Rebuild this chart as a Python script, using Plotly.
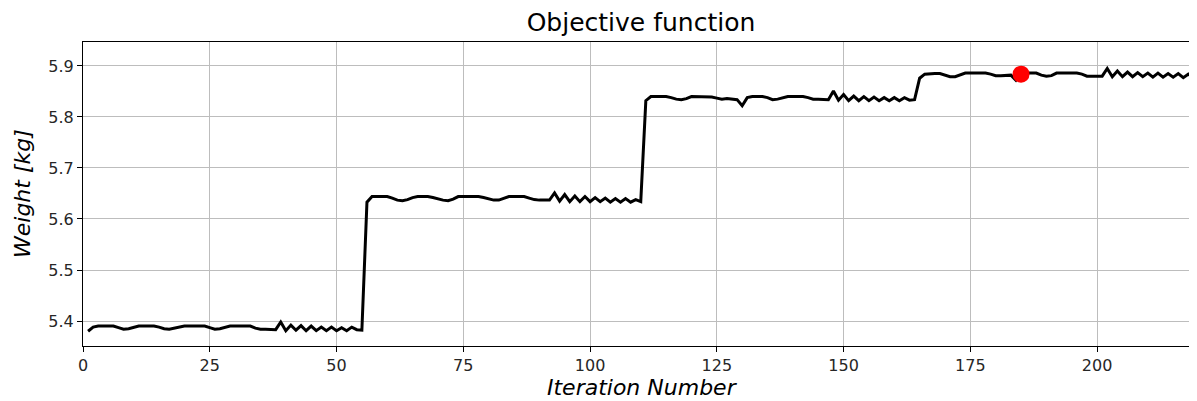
import plotly.graph_objects as go

iterations = list(range(1, 221))

seg1 = [5.380, 5.388, 5.390, 5.390, 5.390, 5.390, 5.387, 5.384, 5.385, 5.387,
        5.390, 5.390, 5.390, 5.390, 5.388, 5.385, 5.384, 5.386, 5.388, 5.390,
        5.390, 5.390, 5.390, 5.390, 5.387, 5.384, 5.385, 5.388, 5.390, 5.390,
        5.390, 5.390, 5.390, 5.386, 5.384, 5.384, 5.384, 5.383,
        5.398, 5.381, 5.392, 5.382, 5.391, 5.381, 5.390, 5.381, 5.388, 5.381,
        5.388, 5.381, 5.387, 5.381, 5.388, 5.383, 5.382]
seg2 = [5.633, 5.644, 5.644, 5.644, 5.644, 5.641, 5.637, 5.636, 5.638, 5.642,
        5.644, 5.644, 5.644, 5.642, 5.639, 5.637, 5.636, 5.639, 5.644, 5.644,
        5.644, 5.644, 5.644, 5.642, 5.639, 5.637, 5.637, 5.641, 5.644, 5.644,
        5.644, 5.644, 5.641, 5.638, 5.637, 5.637, 5.637,
        5.651, 5.635, 5.648, 5.634, 5.645, 5.634, 5.644, 5.634, 5.642, 5.634,
        5.641, 5.633, 5.640, 5.633, 5.640, 5.633, 5.638, 5.634]
seg3 = [5.832, 5.840, 5.840, 5.840, 5.840, 5.838, 5.835, 5.834, 5.836, 5.840,
        5.840, 5.840, 5.840, 5.839, 5.837, 5.835, 5.836, 5.835, 5.834, 5.822,
        5.838, 5.840, 5.840, 5.840, 5.838, 5.834, 5.835, 5.838, 5.840, 5.840,
        5.840, 5.840, 5.838, 5.835, 5.835, 5.835, 5.834,
        5.851, 5.833, 5.844, 5.832, 5.841, 5.832, 5.840, 5.832, 5.839, 5.832,
        5.838, 5.832, 5.838, 5.832, 5.838, 5.833, 5.834]
seg4 = [5.876, 5.884, 5.885, 5.885, 5.885, 5.882, 5.879, 5.879, 5.882, 5.886,
        5.886, 5.886, 5.886, 5.886, 5.884, 5.881, 5.881, 5.881, 5.882, 5.872,
        5.883, 5.886, 5.886, 5.886, 5.882, 5.880, 5.881, 5.886, 5.886, 5.886,
        5.886, 5.886, 5.884, 5.880, 5.880, 5.880, 5.880,
        5.895, 5.879, 5.890, 5.879, 5.888, 5.879, 5.887, 5.879, 5.886, 5.878,
        5.886, 5.878, 5.885, 5.878, 5.885, 5.877, 5.884, 5.877]
weights = seg1 + seg2 + seg3 + seg4

best_iter = [185]
best_weight = [5.884]

x_ticks = [0, 25, 50, 75, 100, 125, 150, 175, 200]
y_ticks = [5.4, 5.5, 5.6, 5.7, 5.8, 5.9]

n = min(len(iterations), len(weights))

# The page body has an 8px margin, so the figure is offset by 8px.
OFF = 8
W, H = 1197 - OFF, 401 - OFF
L, R, T, B = 83 - OFF, 0, 42 - OFF, 401 - 346
PW, PH = W - L - R, H - T - B

fig = go.Figure()
fig.add_trace(go.Scatter(x=iterations[:n], y=weights[:n], mode="lines",
                         line=dict(color="black", width=3), showlegend=False))
fig.add_trace(go.Scatter(x=best_iter, y=best_weight, mode="markers",
                         marker=dict(color="red", size=17), showlegend=False))

fig.update_layout(
    width=W, height=H,
    margin=dict(l=L, r=R, t=T, b=B, autoexpand=False),
    paper_bgcolor="white", plot_bgcolor="white",
    font=dict(family="DejaVu Sans", color="#262626", size=16),
    title=dict(text="Objective function", x=(641 - OFF) / W, xanchor="center",
               y=1 - (22 - OFF) / H, yanchor="middle",
               font=dict(size=25, color="black")),
)
axis_common = dict(showline=True, linecolor="black", linewidth=1, mirror=True,
                   showgrid=True, gridcolor="#bdbdbd", gridwidth=1,
                   ticks="outside", ticklen=5, tickcolor="black", zeroline=False,
                   automargin=False)
fig.update_xaxes(range=[0, 219.7], tickvals=x_ticks, **axis_common)
fig.update_yaxes(range=[5.351, 5.947], tickvals=y_ticks, tickformat=".1f", **axis_common)

fig.add_annotation(text="<i>Iteration Number</i>", xref="paper", yref="paper",
                   x=(642 - 83) / PW, y=-(387 - 346) / PH,
                   xanchor="center", yanchor="middle", showarrow=False,
                   font=dict(size=22, color="black"))
fig.add_annotation(text="<i>Weight [kg]</i>", xref="paper", yref="paper",
                   x=(22 - 83) / PW, y=0.5, xanchor="center", yanchor="middle",
                   textangle=-90, showarrow=False, font=dict(size=22, color="black"))

fig.write_html("out.html")
